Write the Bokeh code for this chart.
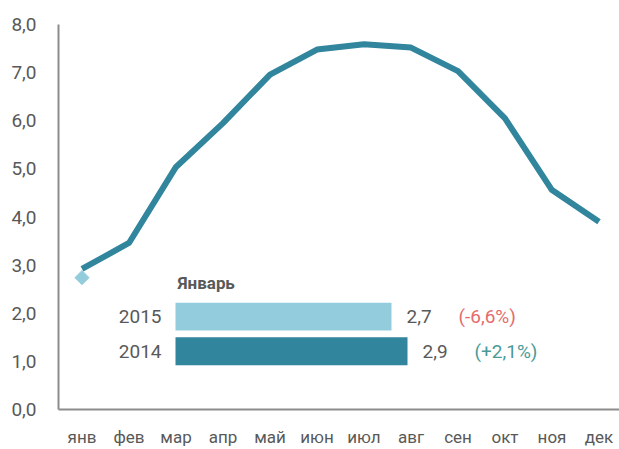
import math
from bokeh.plotting import figure
from bokeh.models import FixedTicker, Range1d, ColumnDataSource
from bokeh.core.properties import value
from bokeh.embed import file_html
from bokeh.resources import INLINE

months = ["янв", "фев", "мар", "апр", "май", "июн", "июл", "авг", "сен", "окт", "ноя", "дек"]
vals_2014 = [2.92, 3.46, 5.04, 5.95, 6.96, 7.48, 7.59, 7.52, 7.03, 6.05, 4.56, 3.90]
vals_2015 = [2.74]

inset_title = "Январь"
inset_years = ["2015", "2014"]
inset_values = [2.7, 2.9]
inset_value_labels = ["2,7", "2,9"]
inset_changes = ["(-6,6%)", "(+2,1%)"]

y_ticks = [0, 1, 2, 3, 4, 5, 6, 7, 8]
y_tick_labels = {t: f"{t},0" for t in y_ticks}

FONT = "Roboto"
GRAY = "#595959"
DARK = "#31859C"
LIGHT = "#93CDDD"
RED = "#E46C6C"
TEAL = "#4A9A98"

W, H = 619, 449
LEFT, TOP, BOTTOM = 58, 24, 39
px_per_x = 47.0
x_end = (W - LEFT) / px_per_x

xs = [i + 0.5 for i in range(len(months))]

p = figure(width=W, height=H, output_backend="svg", toolbar_location=None,
           x_range=Range1d(0, x_end), y_range=Range1d(0, 8),
           min_border_left=LEFT, min_border_right=0, min_border_top=TOP,
           min_border_bottom=BOTTOM)
p.outline_line_color = None
p.grid.visible = False
p.background_fill_color = "white"
p.border_fill_color = "white"

p.xaxis.ticker = FixedTicker(ticks=xs)
p.xaxis.major_label_overrides = {x: m for x, m in zip(xs, months)}
p.yaxis.ticker = FixedTicker(ticks=y_ticks)
p.yaxis.major_label_overrides = y_tick_labels
for ax in (p.xaxis, p.yaxis):
    ax.axis_line_color = "#8c8c8c"
    ax.axis_line_width = 2
    ax.major_tick_line_color = None
    ax.minor_tick_line_color = None
    ax.major_tick_out = 0
    ax.major_tick_in = 0
    ax.minor_tick_out = 0
    ax.major_label_text_font = FONT
    ax.major_label_text_color = GRAY
    ax.major_label_text_font_size = "19px"
p.xaxis.major_label_text_font_size = "17px"
p.xaxis.major_label_standoff = 17
p.yaxis.major_label_standoff = 22

p.line(xs, vals_2014, line_color=DARK, line_width=6, line_join="round")
p.scatter(xs[:len(vals_2015)], vals_2015, marker="square", size=10, angle=math.pi / 4,
          fill_color=LIGHT, line_color=LIGHT)

# Inset bar chart, on its own horizontal range: 0 at 175px, 80px per unit
inset_px_per_unit = 80.0
inset_start = -(175 - LEFT) / inset_px_per_unit
inset_end = inset_start + (W - LEFT) / inset_px_per_unit
p.extra_x_ranges = {"inset": Range1d(inset_start, inset_end)}

bar_y = [1.93, 1.21]
src = ColumnDataSource(dict(y=bar_y, right=inset_values, color=[LIGHT, DARK],
                            year=inset_years, vlab=inset_value_labels,
                            chg=inset_changes, chgcol=[RED, TEAL],
                            zero=[0, 0]))
p.hbar(y="y", left=0, right="right", height=0.58, fill_color="color", line_color=None,
       source=src, x_range_name="inset")
p.text(x="zero", y="y", text="year", source=src, x_range_name="inset",
       x_offset=-14, text_align="right", text_baseline="middle",
       text_font=value(FONT), text_font_size="19px", text_color=GRAY)
p.text(x="right", y="y", text="vlab", source=src, x_range_name="inset",
       x_offset=15, text_align="left", text_baseline="middle",
       text_font=value(FONT), text_font_size="19px", text_color=GRAY)
p.text(x="right", y="y", text="chg", source=src, x_range_name="inset",
       x_offset=67, text_align="left", text_baseline="middle",
       text_font=value(FONT), text_font_size="19px", text_color="chgcol")
p.text(x=[0], y=[2.63], text=[inset_title], x_range_name="inset",
       x_offset=2, text_align="left", text_baseline="middle",
       text_font=value(FONT), text_font_size="17px", text_font_style="bold",
       text_color=GRAY)

open("out.html", "w").write(file_html(p, INLINE))
